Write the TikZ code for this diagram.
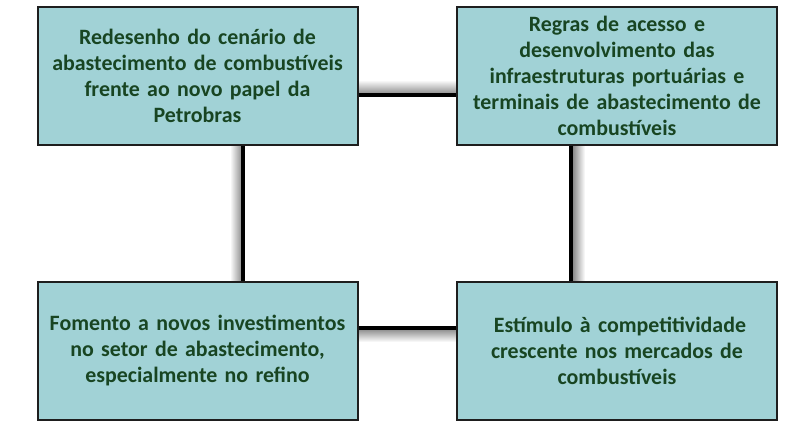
\documentclass[tikz,border=0pt]{standalone}
\usepackage{fontspec}
\setmainfont{Carlito}[WordSpace=0.8]
\usetikzlibrary{positioning}
\definecolor{boxfill}{HTML}{A1D2D6}
\definecolor{boxtext}{HTML}{184522}
\definecolor{boxline}{HTML}{1E1E1E}
\tikzset{
  card/.style={draw=boxline, line width=2pt, fill=boxfill, rectangle,
    minimum width=320pt, minimum height=138pt, inner sep=0pt,
    text width=316pt, align=center, text=boxtext,
    font=\fontsize{21.9}{26}\selectfont\bfseries},
  link/.style={draw=black, line width=3.2pt},
}
\begin{document}
\begin{tikzpicture}[x=1pt,y=-1pt]
\useasboundingbox (0,0) rectangle (805,429);
% shadows of the connectors
\shade[top color=white, bottom color=black!45] (359,80) rectangle (457,94);
\shade[top color=black!45, bottom color=white] (359,329) rectangle (457,342);
\shade[left color=white, right color=black!45] (230,145) rectangle (242,282);
\shade[left color=black!45, right color=white] (573,145) rectangle (585,282);
% cards
\node[card] (a) at (197.5,75.5) {Redesenho do cenário de\\abastecimento de combustíveis\\frente ao novo papel da\\Petrobras};
\node[card] (b) at (617,75.5) {Regras de acesso e\\desenvolvimento das\\infraestruturas portuárias e\\terminais de abastecimento de\\combustíveis};
\node[card] (c) at (197.5,351) {Fomento a novos investimentos\\no setor de abastecimento,\\especialmente no refino};
\node[card] (d) at (617,351) {\hspace*{6pt}Estímulo à competitividade\\crescente nos mercados de\\combustíveis};
% connectors
\draw[link] (a.east |- 0,95) -- (b.west |- 0,95);
\draw[link] (c.east |- 0,328) -- (d.west |- 0,328);
\draw[link] (a.south -| 243,0) -- (c.north -| 243,0);
\draw[link] (b.south -| 571,0) -- (d.north -| 571,0);
\end{tikzpicture}
\end{document}
